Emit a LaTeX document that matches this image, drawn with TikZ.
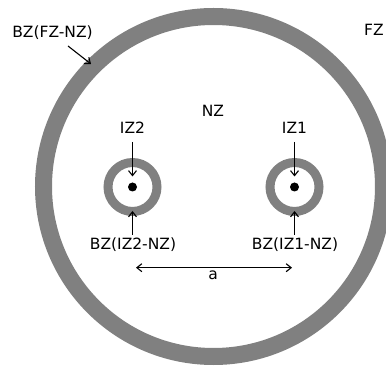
\documentclass[tikz,border=0pt]{standalone}
\usepackage{fontspec}
\setmainfont{DejaVu Sans}
\usetikzlibrary{arrows.meta}
\definecolor{ringgray}{RGB}{128,128,128}
\begin{document}
\begin{tikzpicture}[x=1pt,y=-1pt,
  lbl/.style={font=\fontsize{15.5}{18}\selectfont, inner sep=0pt, text height=0.73em, text depth=0pt},
  ptr/.style={-{Straight Barb[length=5pt,width=8pt]}, line width=1.1pt},
  dptr/.style={{Straight Barb[length=5pt,width=8pt]}-{Straight Barb[length=5pt,width=8pt]}, line width=1.1pt},
  bigring/.style={draw=ringgray, line width=17pt},
  smallring/.style={draw=ringgray, line width=9pt},
  dotmark/.style={fill=black}]
\useasboundingbox (0,0) rectangle (386,366);
\clip (0,0) rectangle (386,366);
\fill[white] (0,0) rectangle (386,366);
% rings
\draw[bigring] (213.5,186.5) circle[radius=170pt];
\draw[smallring] (132.5,187) circle[radius=24.5pt];
\draw[smallring] (294.5,187) circle[radius=24.5pt];
\fill[dotmark] (132.5,187) circle[radius=4.5pt];
\fill[dotmark] (294.5,187) circle[radius=4.5pt];
% labels
\node[lbl] (bzfz) at (52.5,33.5) {BZ(FZ-NZ)};
\node[lbl] (fz) at (374,32) {FZ};
\node[lbl] (nz) at (213,112.5) {NZ};
\node[lbl] (iz2) at (132.5,129.5) {IZ2};
\node[lbl] (iz1) at (294.5,129.5) {IZ1};
\node[lbl] (bz2) at (133,246) {BZ(IZ2-NZ)};
\node[lbl] (bz1) at (295,246) {BZ(IZ1-NZ)};
\node[lbl] (a) at (213,276) {a};
% connector coordinates
\coordinate (s0) at (68,46);
\coordinate (t0) at (91,64);
\coordinate (s2) at (132.5,142);
\coordinate (t2) at (132.5,176.5);
\coordinate (s1) at (294.5,142);
\coordinate (t1) at (294.5,176.5);
\coordinate (u2) at (132.5,235);
\coordinate (v2) at (132.5,211);
\coordinate (u1) at (294.5,235);
\coordinate (v1) at (294.5,211);
\coordinate (al) at (136,267.7);
\coordinate (ar) at (292,267.7);
% connectors
\draw[ptr] (s0) -- (t0);
\draw[ptr] (s2) -- (t2);
\draw[ptr] (s1) -- (t1);
\draw[ptr] (u2) -- (v2);
\draw[ptr] (u1) -- (v1);
\draw[dptr] (al) -- (ar);
\end{tikzpicture}
\end{document}
